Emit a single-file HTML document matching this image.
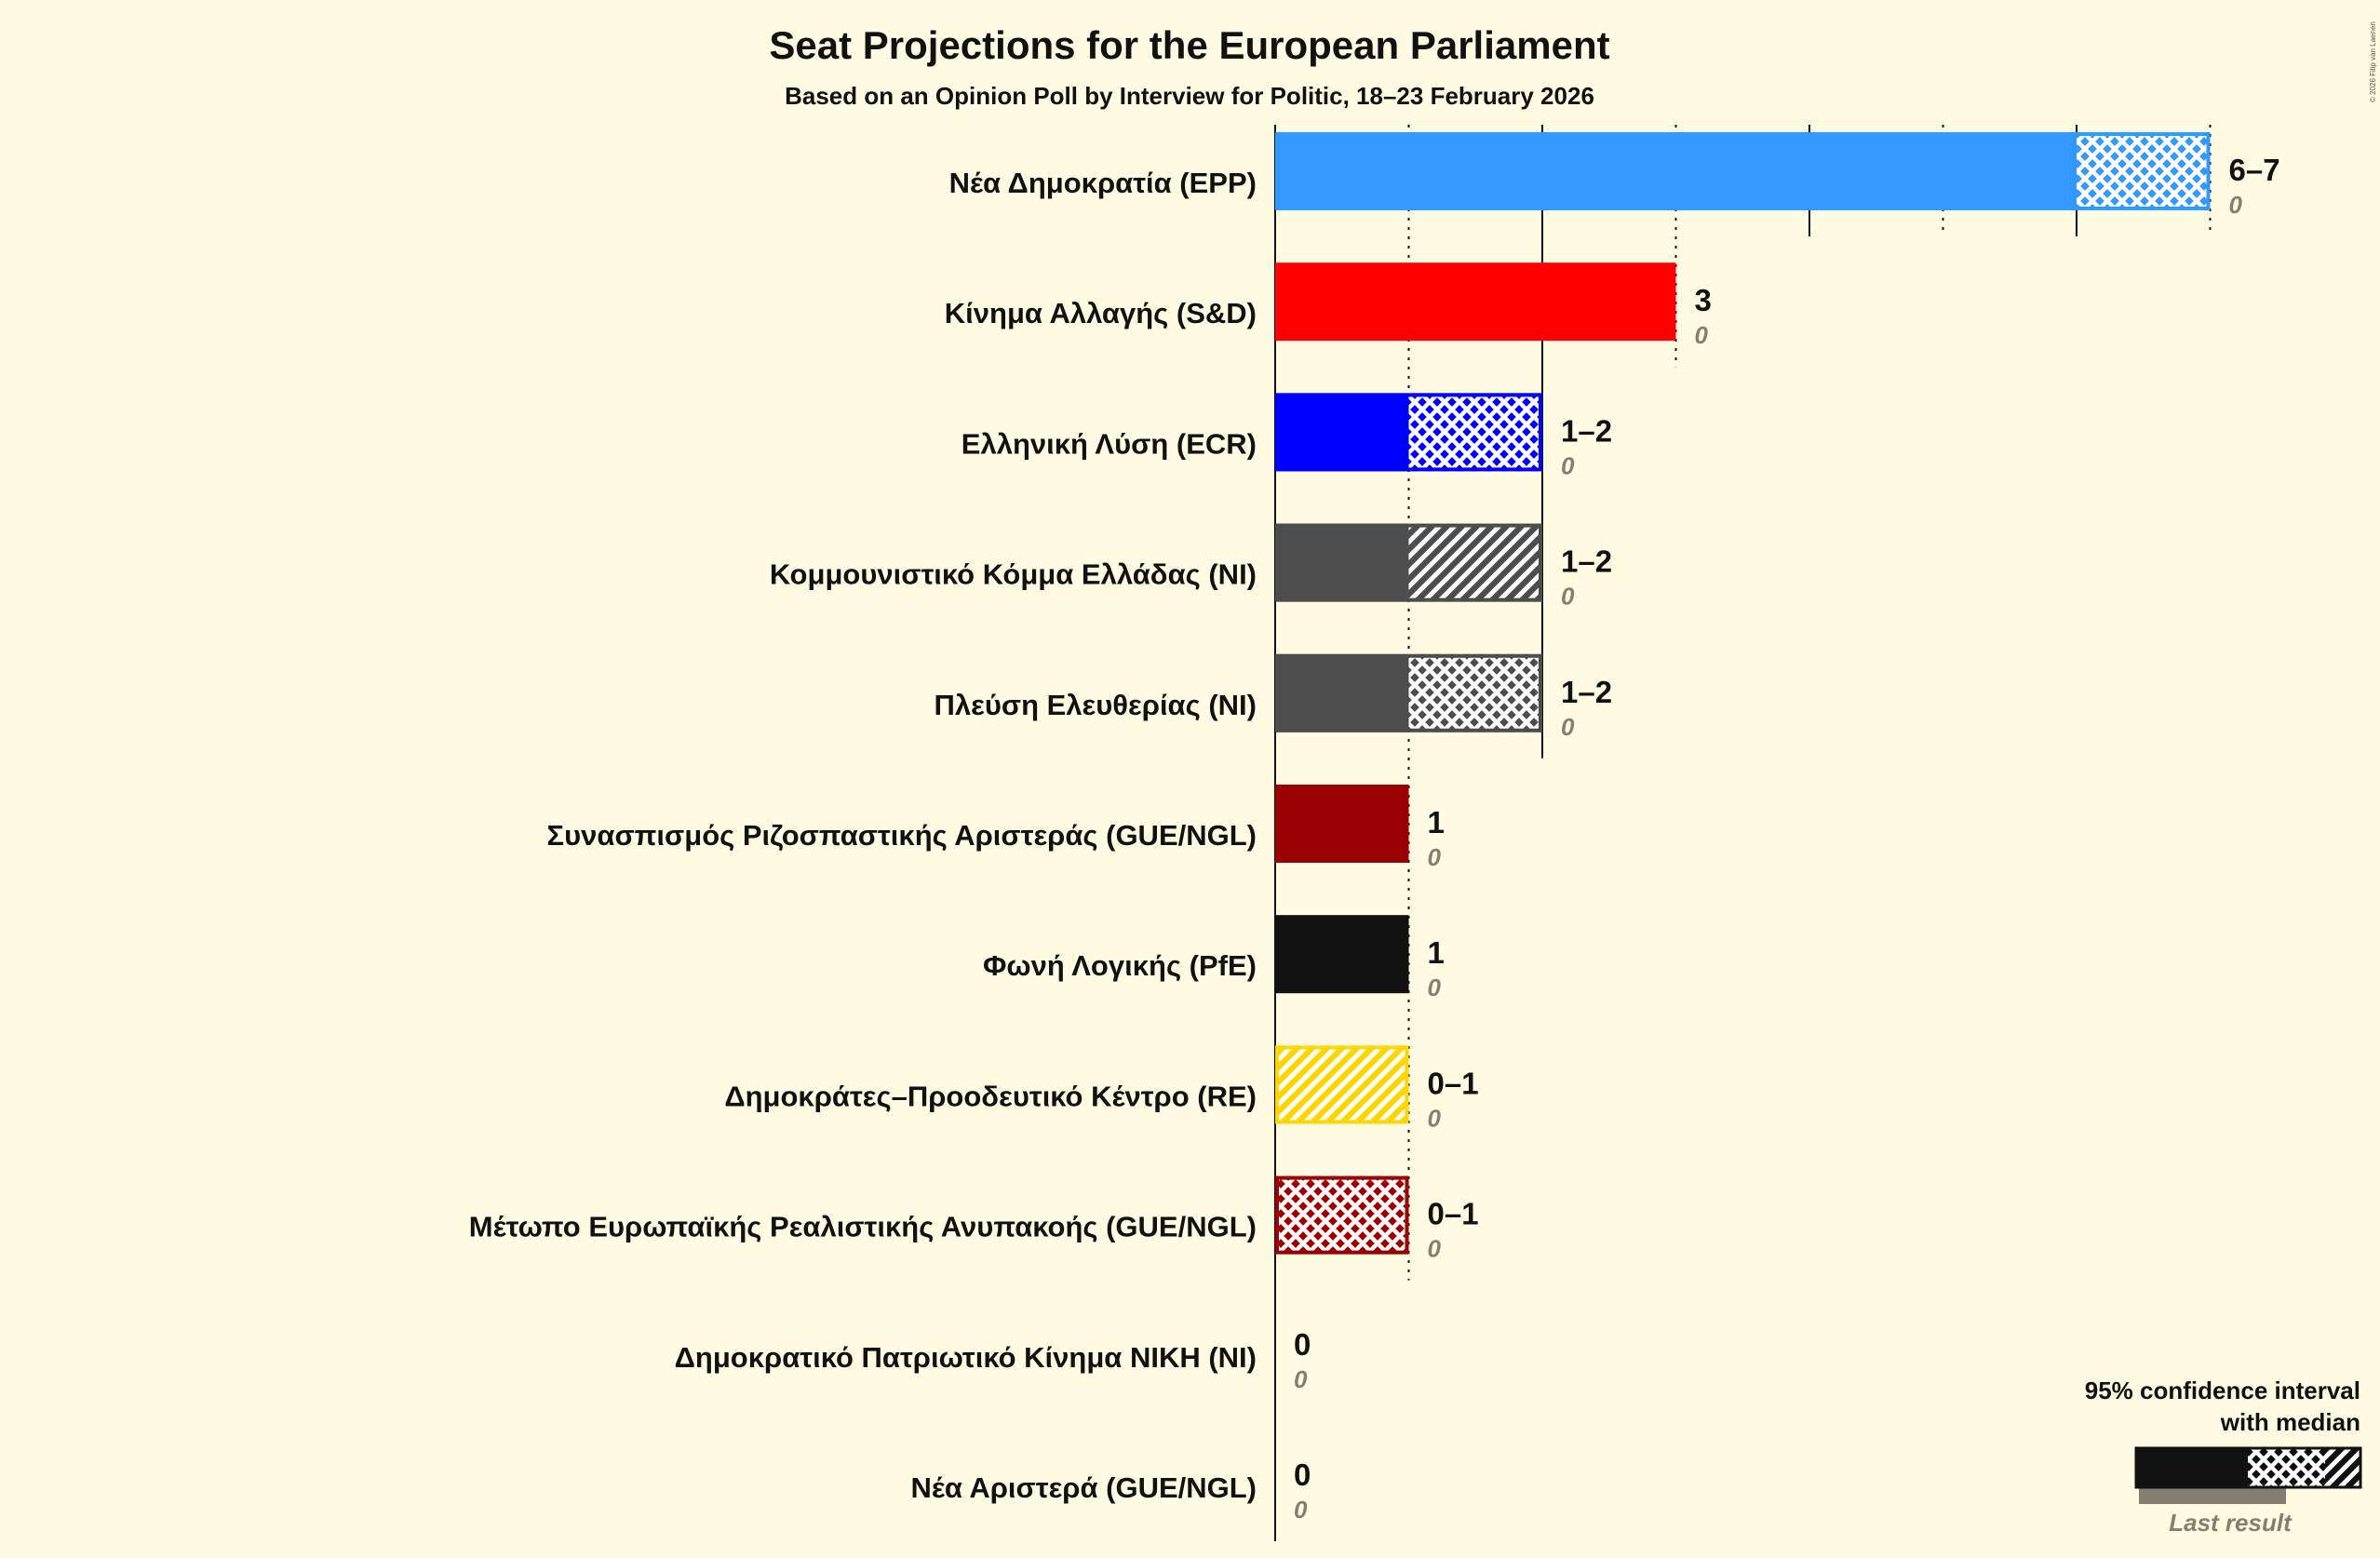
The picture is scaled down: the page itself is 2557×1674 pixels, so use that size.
<!DOCTYPE html>
<html><head><meta charset="utf-8"><style>
html,body{margin:0;padding:0;background:#FFFCE3;}
svg{display:block;font-family:"Liberation Sans","DejaVu Sans",sans-serif;}
</style></head><body>
<svg id="chart" width="2557" height="1674" viewBox="0 0 2557 1674" xmlns="http://www.w3.org/2000/svg">
<defs>
<pattern id="cross" patternUnits="userSpaceOnUse" width="16" height="16"><path d="M0,0L16,16M16,0L0,16" stroke="#fff" stroke-width="4.5"/></pattern>
<pattern id="hatch" patternUnits="userSpaceOnUse" width="16" height="16"><path d="M-4,4L4,-4M0,16L16,0M12,20L20,12" stroke="#fff" stroke-width="5"/></pattern>
</defs>
<rect width="2557" height="1674" fill="#FFFCE3"/>
<text x="1278" y="63" text-anchor="middle" font-size="42" font-weight="bold" fill="#111">Seat Projections for the European Parliament</text>
<text x="1278" y="112" text-anchor="middle" font-size="26" font-weight="bold" fill="#111">Based on an Opinion Poll by Interview for Politic, 18–23 February 2026</text>
<text transform="translate(2552,110) rotate(-90)" font-size="8" fill="#555">© 2026 Filip van Laenen</text>
<g id="grid"></g><g id="bars"></g>
<g>
<text x="2536" y="1503" text-anchor="end" font-size="26" font-weight="bold" fill="#111">95% confidence interval</text>
<text x="2536" y="1537" text-anchor="end" font-size="26" font-weight="bold" fill="#111">with median</text>
<rect x="2298" y="1598" width="158" height="18" fill="#838073"/>
<rect x="2295" y="1556" width="120" height="42" fill="#111"/>
<rect x="2415" y="1556" width="83" height="42" fill="#111"/><rect x="2415" y="1556" width="83" height="42" fill="url(#cross)"/>
<rect x="2498" y="1556" width="38" height="42" fill="#111"/><rect x="2498" y="1556" width="38" height="42" fill="url(#hatch)"/>
<rect x="2295" y="1556" width="241" height="42" fill="none" stroke="#111" stroke-width="3"/>
<text x="2396" y="1645" text-anchor="middle" font-size="26" font-style="italic" font-weight="bold" fill="#838073">Last result</text>
</g>
</svg>
<script>
const parties=["Νέα Δημοκρατία (EPP)","Κίνημα Αλλαγής (S&D)","Ελληνική Λύση (ECR)","Κομμουνιστικό Κόμμα Ελλάδας (NI)","Πλεύση Ελευθερίας (NI)","Συνασπισμός Ριζοσπαστικής Αριστεράς (GUE/NGL)","Φωνή Λογικής (PfE)","Δημοκράτες–Προοδευτικό Κέντρο (RE)","Μέτωπο Ευρωπαϊκής Ρεαλιστικής Ανυπακοής (GUE/NGL)","Δημοκρατικό Πατριωτικό Κίνημα ΝΙΚΗ (NI)","Νέα Αριστερά (GUE/NGL)"];
const lows=[6,3,1,1,1,1,1,0,0,0,0];
const medians=[7,3,2,1,2,1,1,0,1,0,0];
const highs=[7,3,2,2,2,1,1,1,1,0,0];
const lastResults=[0,0,0,0,0,0,0,0,0,0,0];
const colors=["#3399FF","#FF0000","#0000FF","#4D4D4D","#4D4D4D","#990000","#111111","#FFD700","#990000","#111111","#111111"];
const NS="http://www.w3.org/2000/svg";
const X0=1370,UNIT=143.5,ROW0=184,STEP=140.2,BH=84;
const x=v=>X0+v*UNIT, yc=i=>ROW0+i*STEP;
function mk(tag,attrs,parent){const e=document.createElementNS(NS,tag);for(const k in attrs)e.setAttribute(k,attrs[k]);parent.appendChild(e);return e;}
const grid=document.getElementById('grid'),bars=document.getElementById('bars');
const maxV=Math.max(...highs);
for(let v=0;v<=maxV;v++){
  let last=0;highs.forEach((h,i)=>{if(h>=v)last=i;});
  const l=mk('line',{x1:x(v),x2:x(v),y1:134,y2:v===0?yc(parties.length-1)+70:yc(last)+70,stroke:'#111','stroke-width':2,'stroke-dasharray':(v%2===1)?'3,7':'none'},grid);
  
  
}
parties.forEach((p,i)=>{
  const g=mk('g',{},bars);
  
  
  const top=yc(i)-BH/2,c=colors[i];
  const t=mk('text',{x:1350,y:yc(i)+23,'text-anchor':'end','font-size':31,'font-weight':'bold',fill:'#111'},g);t.textContent=p;
  
  
  if(lows[i]>0){const r=mk('rect',{x:x(0),y:top,width:x(lows[i])-x(0),height:BH,fill:c},g);
    
    }
  if(medians[i]>lows[i]){mk('rect',{x:x(lows[i]),y:top,width:x(medians[i])-x(lows[i]),height:BH,fill:c},g);
    const r=mk('rect',{x:x(lows[i]),y:top,width:x(medians[i])-x(lows[i]),height:BH,fill:'url(#cross)'},g);
    
    }
  if(highs[i]>medians[i]){mk('rect',{x:x(medians[i]),y:top,width:x(highs[i])-x(medians[i]),height:BH,fill:c},g);
    const r=mk('rect',{x:x(medians[i]),y:top,width:x(highs[i])-x(medians[i]),height:BH,fill:'url(#hatch)'},g);
    
    }
  if(highs[i]>lows[i]){mk('rect',{x:x(0)+2,y:top+2,width:x(highs[i])-x(0)-4,height:BH-4,fill:'none',stroke:c,'stroke-width':4},g);}
  if(lastResults[i]>0){mk('rect',{x:x(0),y:top+BH,width:x(lastResults[i])-x(0),height:16,fill:'#838073'},g);}
  const vx=x(highs[i])+20;
  const vt=mk('text',{x:vx,y:yc(i)+10,'font-size':33,'font-weight':'bold',fill:'#111'},g);
  vt.textContent=lows[i]===highs[i]?String(lows[i]):lows[i]+'–'+highs[i];
  
  
  const lt=mk('text',{x:vx,y:yc(i)+45,'font-size':26,'font-style':'italic','font-weight':'bold',fill:'#838073'},g);
  lt.textContent=String(lastResults[i]);
  
  
});
</script>
</body></html>
